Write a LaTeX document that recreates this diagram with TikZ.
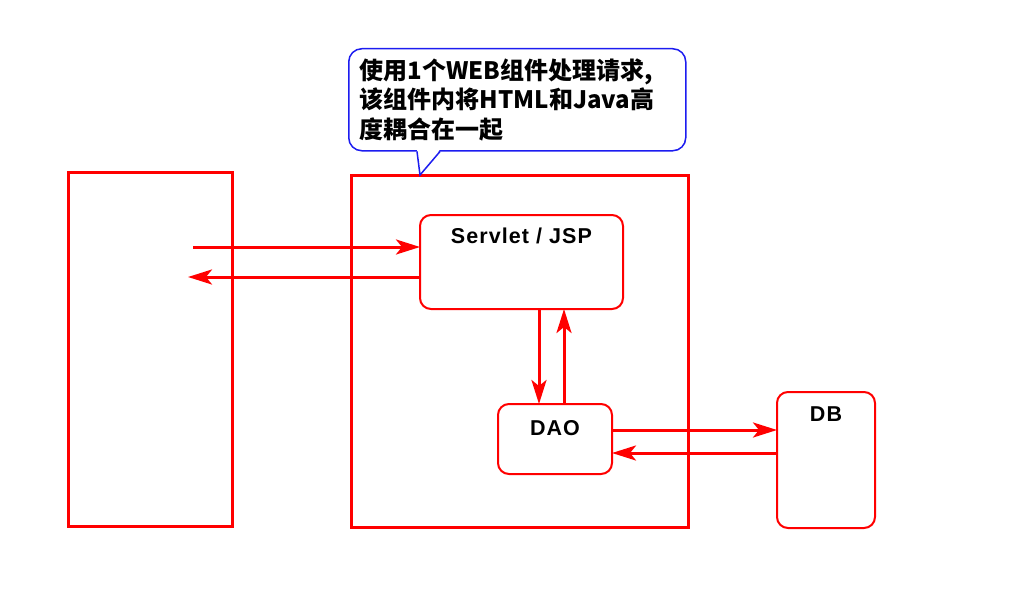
\documentclass[tikz,border=0pt]{standalone}
\usepackage{fontspec}
\setmainfont{Liberation Sans}
\newfontfamily\cjk{Noto Sans CJK SC}
\newfontfamily\tagfont[LetterSpace=5]{Liberation Sans}
\usetikzlibrary{arrows.meta,positioning}
\definecolor{wire}{HTML}{FF0000}
\definecolor{note}{HTML}{1C1CF0}

\begin{document}
\begin{tikzpicture}[
  x=1pt,y=-1pt,
  >={Stealth[length=24pt,width=15pt,inset=6pt]},
  tier/.style={draw=wire,line width=3pt,anchor=north west,inner sep=0pt,outer sep=0pt},
  part/.style={draw=wire,line width=2pt,rounded corners=11pt,anchor=north west,inner sep=0pt,outer sep=0pt},
  tag/.style={anchor=base,font=\tagfont\bfseries\fontsize{21.5}{24}\selectfont},
  flow/.style={draw=wire,line width=3pt,->}
]
\useasboundingbox (0,0) rectangle (1024,610);
% tiers
\node[tier,minimum width=164pt,minimum height=354pt] (browser) at (68,172) {};
\node[tier,minimum width=337pt,minimum height=352pt] (app) at (351,175) {};
% parts inside the server
\node[part,minimum width=203pt,minimum height=94pt] (web) at (420,215) {};
\node[tag] (webname) at ([yshift=-28pt]web.north) {Servlet / JSP};
\node[part,minimum width=114pt,minimum height=70pt] (dao) at (498,404) {};
\node[tag] (daoname) at ([yshift=-31pt]dao.north) {DAO};
\node[part,minimum width=98pt,minimum height=136pt] (db) at (777,392) {};
\node[tag] (dbname) at ([yshift=-29pt]db.north) {DB};
% note
\node[draw=note,line width=1.5pt,rounded corners=13pt,fill=white,anchor=north west,
  minimum width=337pt,minimum height=102pt,inner sep=0pt,text width=315pt,align=left,
  font=\cjk\bfseries\fontsize{24}{29.5}\selectfont] (memo) at (348,48)
  {使用1个WEB组件处理请求,\\该组件内将HTML和Java高\\度耦合在一起};
\coordinate (tip) at ([xshift=69pt]app.north west);
\fill[white] ([xshift=69pt,yshift=2pt]memo.south west) -- (tip) -- ([xshift=92pt,yshift=2pt]memo.south west) -- cycle;
\draw[note,line width=1.5pt] ([xshift=69pt]memo.south west) -- (tip) -- ([xshift=92pt]memo.south west);
% request / response
\coordinate (req) at ([xshift=-39pt]browser.east |- web.west);
\draw[flow] ([yshift=15pt]req) -- ([yshift=15pt]web.west);
\draw[flow] ([yshift=-15pt]web.west) -- ([xshift=-5pt,yshift=-15pt]req);
\draw[flow] ([xshift=-16pt]dao.north |- web.south) -- ([xshift=-16pt]dao.north);
\draw[flow] ([xshift=9pt]dao.north) -- ([xshift=9pt]dao.north |- web.south);
\draw[flow] ([yshift=9pt]dao.east) -- ([yshift=9pt]dao.east -| db.west);
\draw[flow] ([yshift=-14pt]dao.east -| db.west) -- ([yshift=-14pt]dao.east);
\end{tikzpicture}
\end{document}
